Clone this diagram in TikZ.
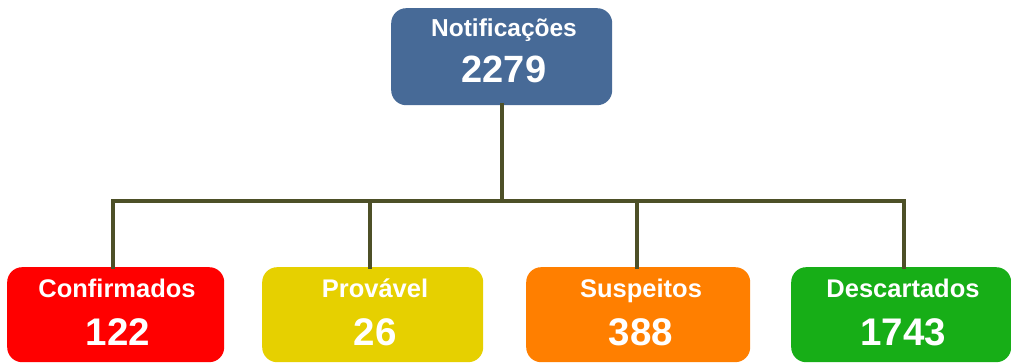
\documentclass[tikz,border=0pt]{standalone}
\usepackage{fontspec}
\setmainfont{Liberation Sans}
\usetikzlibrary{calc}
\definecolor{topblue}{HTML}{476A97}
\definecolor{cred}{HTML}{FF0000}
\definecolor{cyellow}{HTML}{E6D000}
\definecolor{corange}{HTML}{FF7F00}
\definecolor{cgreen}{HTML}{17AE17}
\definecolor{linecol}{HTML}{4D5027}
\tikzset{
  box/.style={rectangle, rounded corners=15pt, draw=none, inner sep=0pt, anchor=north west},
  txt/.style={text=white, inner sep=0pt, anchor=base},
  ttl/.style={txt, font=\bfseries\fontsize{24.5}{24.5}\selectfont},
  bttl/.style={txt, font=\bfseries\fontsize{25.5}{25.5}\selectfont},
  num/.style={txt, font=\bfseries\fontsize{38}{38}\selectfont},
  bnum/.style={txt, font=\bfseries\fontsize{38.5}{38.5}\selectfont},
  conn/.style={draw=linecol, line width=4pt, line cap=rect}
}
\begin{document}
\begin{tikzpicture}[x=1pt,y=-1pt]
\useasboundingbox (0,0) rectangle (1011,363);
% boxes
\node[box, fill=topblue, minimum width=221pt, minimum height=97pt] (top) at (391,8) {};
\node[box, fill=cred, minimum width=217pt, minimum height=95pt] (red) at (7,267) {};
\node[box, fill=cyellow, minimum width=221pt, minimum height=95pt] (yel) at (262,267) {};
\node[box, fill=corange, minimum width=224pt, minimum height=95pt] (ora) at (526,267) {};
\node[box, fill=cgreen, minimum width=220pt, minimum height=95pt] (gre) at (791,267) {};
% texts
\node[ttl] (topT) at (504,37) {Notificações};
\node[num] (topN) at (504,83) {2279};
\node[bttl] (redT) at (117,297) {Confirmados};
\node[bnum] (redN) at (118,345) {122};
\node[bttl] (yelT) at (375,297) {Provável};
\node[bnum] (yelN) at (375,345) {26};
\node[bttl] (oraT) at (641,297) {Suspeitos};
\node[bnum] (oraN) at (641,345) {388};
\node[bttl] (greT) at (903,297) {Descartados};
\node[bnum] (greN) at (903,345) {1743};
% connectors
\coordinate (busL) at (113,201);
\coordinate (busR) at (904,201);
\draw[conn] (top.south -| 502,0) -- (502,201);
\draw[conn] (busL) -- (busR);
\draw[conn] (busL) -- (busL |- red.north);
\draw[conn] (370,201) -- (370,267);
\draw[conn] (637,201) -- (637,267);
\draw[conn] (busR) -- (busR |- gre.north);
\end{tikzpicture}
\end{document}
